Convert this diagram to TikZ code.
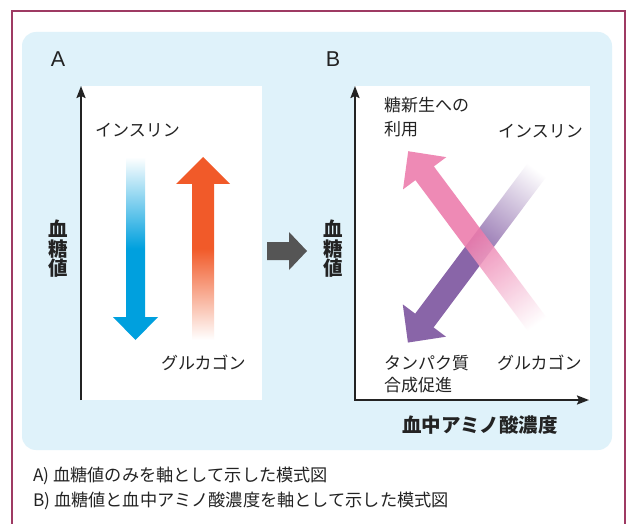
\documentclass[tikz,border=0pt]{standalone}
\usepackage{fontspec}
\setmainfont{Noto Sans CJK JP}
\newfontfamily\lat{Liberation Sans}
\usetikzlibrary{arrows.meta}
\definecolor{framec}{RGB}{158,58,99}
\definecolor{panelc}{RGB}{223,242,250}
\definecolor{insblue}{RGB}{0,160,222}
\definecolor{glcorange}{RGB}{241,90,41}
\definecolor{arrowgray}{RGB}{85,85,85}
\definecolor{pinkc}{RGB}{236,122,171}
\definecolor{purplec}{RGB}{137,101,168}
\definecolor{textc}{RGB}{35,35,35}
\begin{document}
\begin{tikzpicture}[x=1pt,y=-1pt,
  lbl/.style={inner sep=0pt, anchor=west, text=textc, font=\fontsize{17}{24}\selectfont},
  axislbl/.style={inner sep=0pt, text=textc, align=center, font=\bfseries\fontsize{19.5}{19.5}\selectfont},
  panellbl/.style={inner sep=0pt, text=textc, font=\lat\fontsize{21.5}{21.5}\selectfont},
  caplbl/.style={inner sep=0pt, anchor=west, text=textc, font=\fontsize{17.2}{24}\selectfont},
  axisA/.style={line width=2pt, draw=textc, -{Stealth[length=12pt,width=9pt,inset=2pt]}},
  axisB/.style={line width=2pt, draw=textc, {Stealth[length=12pt,width=9pt,inset=2pt]}-{Stealth[length=12pt,width=9pt,inset=2pt]}}]
\useasboundingbox (0,0) rectangle (627,524);
\fill[white] (0,0) rectangle (627,524);
% outer frame (open at the bottom)
\draw[framec, line width=1.5pt] (12,530) -- (12,11) -- (625,11) -- (625,530);
% light blue panel
\fill[panelc, rounded corners=14pt] (22,32) rectangle (612,450);
% white plot areas
\fill[white] (82,86) rectangle (262,400);
\fill[white] (355,86) rectangle (590,400);
% panel letters
\node[panellbl] (pA) at (58,59) {A};
\node[panellbl] (pB) at (333,59) {B};
% axes
\coordinate (a0) at (81,400);
\coordinate (aT) at (81,86);
\draw[axisA] (a0) -- (aT);
\coordinate (b0) at (355,400);
\coordinate (bT) at (355,86);
\coordinate (bR) at (589,400);
\draw[axisB] (bT) -- (b0) -- (bR);
% axis labels
\node[axislbl] (yA) at (58,249) {血\\糖\\値};
\node[axislbl] (yB) at (333,249) {血\\糖\\値};
\node[axislbl] (xB) at (480,425) {血中アミノ酸濃度};
% panel A arrows
\shade[top color=white, bottom color=insblue, middle color=insblue]
  (126,157) -- (145,157) -- (145,317) -- (158,317) -- (135.5,340) -- (113,317) -- (126,317) -- cycle;
\shade[top color=glcorange, bottom color=white, middle color=glcorange]
  (192,340) -- (192,184) -- (176,184) -- (203,157) -- (230,184) -- (214,184) -- (214,340) -- cycle;
\node[lbl] (insA) at (95,130) {インスリン};
\node[lbl] (glcA) at (161,363) {グルカゴン};
% middle gray arrow
\fill[arrowgray] (267,242) -- (289,242) -- (289,232) -- (307,251) -- (289,270) -- (289,260) -- (267,260) -- cycle;
% panel B arrows
\begin{scope}[transform canvas={shift={(537,170)}, rotate=233.2}]
\shade[left color=white, right color=purplec, middle color=purplec]
  (0,-11.5) -- (188,-11.5) -- (188,-27) -- (215.5,0) -- (188,27) -- (188,11.5) -- (0,11.5) -- cycle;
\end{scope}
\begin{scope}[transform canvas={shift={(537,324)}, rotate=126.7}]
\shade[left color=white, right color=pinkc, middle color=pinkc, fill opacity=0.88]
  (0,-11.5) -- (188,-11.5) -- (188,-27) -- (215.5,0) -- (188,27) -- (188,11.5) -- (0,11.5) -- cycle;
\end{scope}
\node[lbl] (gng1) at (384,105) {糖新生への};
\node[lbl] (gng2) at (384,129) {利用};
\node[lbl] (insB) at (498,131) {インスリン};
\node[lbl] (prt1) at (384,363) {タンパク質};
\node[lbl] (prt2) at (384,385) {合成促進};
\node[lbl] (glcB) at (497,363) {グルカゴン};
% caption
\node[caplbl] (cap1) at (33,476) {A) 血糖値のみを軸として示した模式図};
\node[caplbl] (cap2) at (33,501) {B) 血糖値と血中アミノ酸濃度を軸として示した模式図};
\end{tikzpicture}
\end{document}
